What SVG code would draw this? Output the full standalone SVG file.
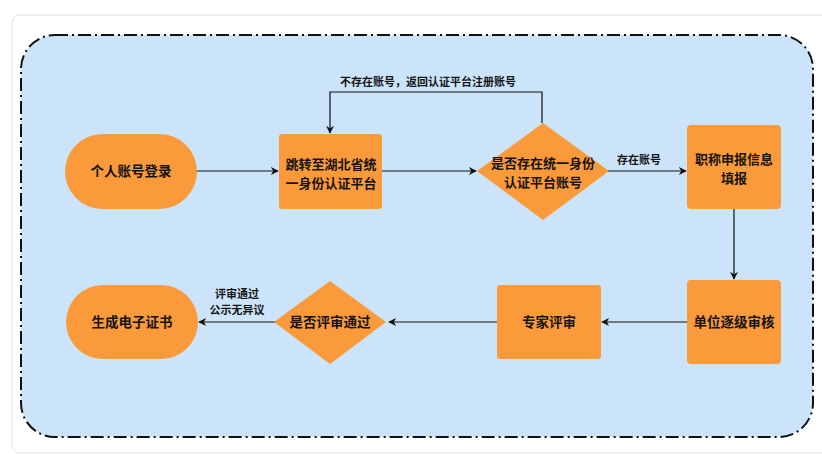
<svg xmlns="http://www.w3.org/2000/svg" width="822" height="455" viewBox="0 0 822 455">
<defs>
<style>
.n{fill:#FA9A3A;}
.t{font-family:"Noto Sans CJK SC","Noto Sans",sans-serif;font-weight:bold;font-size:13.5px;fill:#141414;text-anchor:middle;}
.t2{font-size:13px;}
.l{font-family:"Noto Sans CJK SC","Noto Sans",sans-serif;font-weight:bold;font-size:11px;fill:#141414;text-anchor:middle;}
.e{fill:none;stroke:#111;stroke-width:1.2;}
</style>
<marker id="a" viewBox="0 0 10 10" refX="9" refY="5" markerWidth="8" markerHeight="8" markerUnits="userSpaceOnUse" orient="auto">
<path d="M0,0 L10,5 L0,10 L3,5 Z" fill="#111"/>
</marker>
</defs>
<rect x="0" y="0" width="822" height="455" fill="#ffffff"/>
<rect x="12" y="15" width="830" height="438" rx="8" fill="#ffffff" stroke="#e3e3e3" stroke-width="1"/>
<rect id="container" x="21" y="35" width="792" height="402" rx="34" fill="#CCE4FA" stroke="#111" stroke-width="2" stroke-dasharray="13 4 2 4"/>

<g id="connectors">
<path class="e" d="M197,171 H278" marker-end="url(#a)"/>
<path class="e" d="M382,171 H476" marker-end="url(#a)"/>
<path class="e" d="M542,123 V92 H330 V133" marker-end="url(#a)"/>
<text class="l" x="428" y="86">不存在账号，返回认证平台注册账号</text>
<path class="e" d="M608,171 H686" marker-end="url(#a)"/>
<text class="l" x="639" y="164">存在账号</text>
<path class="e" d="M734,209 V279" marker-end="url(#a)"/>
<path class="e" d="M687,322 H602" marker-end="url(#a)"/>
<path class="e" d="M497,322 H389" marker-end="url(#a)"/>
<path class="e" d="M277,322 H199" marker-end="url(#a)"/>
<text class="l" x="237" y="298"><tspan x="237">评审通过</tspan><tspan x="237" dy="16">公示无异议</tspan></text>
</g>

<g id="n1">
<rect class="n" x="65" y="134" width="132" height="75" rx="37.5"/>
<text class="t" x="131" y="176">个人账号登录</text>
</g>
<g id="n2">
<rect class="n" x="279" y="134" width="103" height="75" rx="3"/>
<text class="t t2" x="331" y="168.5"><tspan x="331">跳转至湖北省统</tspan><tspan x="331" dy="19">一身份认证平台</tspan></text>
</g>
<g id="n3">
<polygon class="n" points="543,123 609,171 543,220 477,171"/>
<text class="t t2" x="543" y="167.5"><tspan x="543">是否存在统一身份</tspan><tspan x="543" dy="19">认证平台账号</tspan></text>
</g>
<g id="n4">
<rect class="n" x="687" y="125" width="94" height="84" rx="4"/>
<text class="t t2" x="734" y="163.5"><tspan x="734">职称申报信息</tspan><tspan x="734" dy="19">填报</tspan></text>
</g>
<g id="n5">
<rect class="n" x="687" y="280" width="94" height="84" rx="4"/>
<text class="t" x="734" y="327">单位逐级审核</text>
</g>
<g id="n6">
<rect class="n" x="497" y="285" width="104" height="74" rx="3"/>
<text class="t" x="549" y="327">专家评审</text>
</g>
<g id="n7">
<polygon class="n" points="330,281 386,322 330,364 274,322"/>
<text class="t" x="330" y="327">是否评审通过</text>
</g>
<g id="n8">
<rect class="n" x="66" y="285" width="132" height="74" rx="37"/>
<text class="t" x="132" y="327">生成电子证书</text>
</g>
</svg>
